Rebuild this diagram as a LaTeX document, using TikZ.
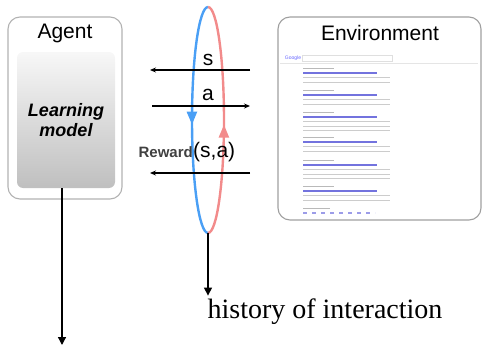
\documentclass[tikz,border=0pt]{standalone}
\usepackage{fontspec}
\setmainfont{Liberation Sans}
\newfontfamily\histfont{Liberation Serif}
\usetikzlibrary{arrows.meta,decorations.markings}

\definecolor{loopblue}{HTML}{4A9FF5}
\definecolor{loopred}{HTML}{F28B8B}
\definecolor{linkblue}{HTML}{5A5AD8}

\tikzset{
  box/.style={draw=gray!75, line width=1.1pt, rounded corners=12pt},
  bigtext/.style={font=\fontsize{21}{24}\selectfont},
  flow/.style={-{Stealth[length=6pt,width=5pt]}, line width=1.1pt},
  down/.style={-{Triangle[length=8pt,width=8pt]}, line width=1.3pt},
  looptip/.style={decoration={markings, mark=at position #1 with {\arrow{Triangle[length=13pt,width=10pt]}}},
        postaction={decorate}},
}

\begin{document}
\begin{tikzpicture}[x=1pt,y=-1pt]
  \useasboundingbox (0,0) rectangle (483,348);

  % Agent
  \node[box, draw=gray!60, minimum width=114pt, minimum height=182pt] (agent) at (65,108) {};
  \node[bigtext] (agentlbl) at (65,33) {Agent};
  \node[rounded corners=6pt, top color=gray!6, bottom color=gray!50,
        minimum width=98pt, minimum height=136pt, align=center,
        font=\fontsize{18}{20}\selectfont\bfseries\itshape] (model) at (66,120)
        {Learning\\model};

  % Environment
  \node[box, minimum width=203pt, minimum height=203pt] (env) at (379.5,118.5) {};
  \node[bigtext] (envlbl) at (380,33) {Environment};

  % search results shot
  \node[font=\fontsize{5}{5}\selectfont, text=blue!60] (google) at (293,58) {Google};
  \draw[gray!25, line width=0.6pt] (302,55) rectangle (392,61);
  \draw[gray!20, line width=0.5pt] (280,63) -- (478,63);
  \foreach \y/\n in {68/2, 90/2, 112/3, 137/2, 160/3, 186/2} {
    \draw[gray!55, line width=1pt] (303,\y) -- (334,\y);
    \draw[linkblue!85, line width=1.3pt] (303,\y+5) -- (377,\y+5);
    \foreach \k in {1,...,\n}
      \draw[gray!40, line width=0.8pt] (303,\y+5+4.5*\k) -- (390,\y+5+4.5*\k);
  }
  \draw[gray!55, line width=1pt] (303,208) -- (330,208);
  \draw[linkblue!60, line width=1.3pt, dash pattern=on 4pt off 5pt] (303,213) -- (375,213);

  % interaction loop
  \coordinate (top) at (208,7);
  \coordinate (bot) at (208,233);
  \draw[loopblue, line width=2.4pt, looptip=0.52]
    (top) arc[start angle=90, end angle=270, x radius=16pt, y radius=113pt];
  \draw[loopred, line width=2.4pt, looptip=0.48]
    (bot) arc[start angle=-90, end angle=90, x radius=16pt, y radius=113pt];

  % messages
  \coordinate (sR) at (250,70);  \coordinate (sL) at (150,70);
  \coordinate (aL) at (152,106); \coordinate (aR) at (250,106);
  \coordinate (rR) at (250,173); \coordinate (rL) at (150,173);
  \draw[flow] (sR) -- (sL);
  \draw[flow] (aL) -- (aR);
  \draw[flow] (rR) -- (rL);
  \node[bigtext] (slbl) at (208,60) {s};
  \node[bigtext] (albl) at (208,95) {a};
  \node[anchor=east, inner sep=0pt, font=\fontsize{15}{16}\selectfont\bfseries, text=black!75] (rwd) at (193,152) {Reward};
  \node[anchor=west, inner sep=0pt, bigtext] (rwdarg) at (rwd.east) {(s,a)};

  % outputs
  \node[font=\fontsize{28}{30}\selectfont\histfont] (history) at (325,312) {history of interaction};
  \draw[down] (bot) -- (bot |- history.north);
  \coordinate (agentout) at (62,345);
  \draw[down] (model.south -| agentout) -- (agentout);
\end{tikzpicture}
\end{document}
